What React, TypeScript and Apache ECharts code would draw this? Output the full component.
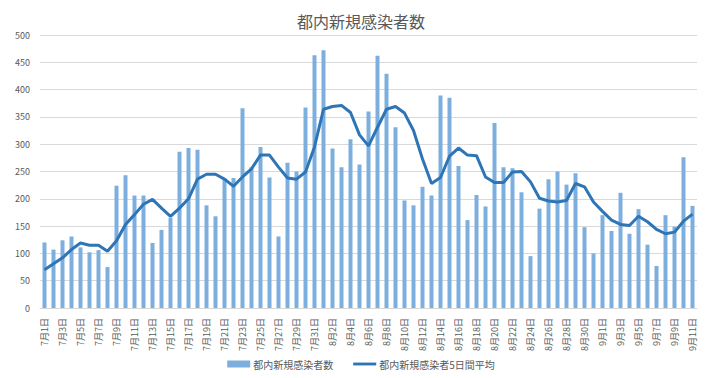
import React, { useEffect, useRef } from "react";
import * as echarts from "echarts";

const months = [7, 8, 9];
const daysInMonth = [31, 31, 11];
const categories: string[] = [];
months.forEach((m, i) => {
  for (let d = 1; d <= daysInMonth[i]; d++) categories.push(`${m}月${d}日`);
});

const dailyCases = [
  120, 107, 124, 131, 111, 102, 106, 75, 224, 243,
  206, 206, 119, 143, 165, 286, 293, 290, 188, 168,
  237, 238, 366, 258, 295, 239, 131, 266, 250, 367, 463,
  472, 292, 258, 309, 263, 360, 462, 429, 331, 197,
  188, 222, 206, 389, 385, 260, 161, 207, 186, 339,
  258, 256, 212, 95, 182, 236, 250, 226, 247, 148, 100,
  170, 141, 211, 136, 181, 116, 77, 170, 149, 276, 187,
];

const avg5 = [
  70, 81, 92, 107, 119, 115, 115, 104, 123, 153,
  171, 190, 199, 183, 168, 183, 200, 236, 245, 245,
  236, 223, 240, 255, 280, 280, 258, 238, 236, 249, 295,
  364, 369, 371, 358, 317, 297, 331, 364, 369, 357,
  325, 273, 228, 239, 278, 293, 280, 279, 240, 230,
  230, 249, 250, 231, 201, 196, 194, 197, 228, 222, 194,
  177, 161, 153, 151, 168, 158, 144, 136, 139, 159, 172,
];

const seriesNames = ["都内新規感染者数", "都内新規感染者5日間平均"];
const title = "都内新規感染者数";

const FONT = "'Noto Sans CJK JP', 'Noto Sans', sans-serif";

export default function App() {
  const ref = useRef<HTMLDivElement>(null);
  useEffect(() => {
    document.body.style.margin = "0";
    const chart = echarts.init(ref.current!, undefined, { renderer: "svg" });
    chart.setOption({
      animation: false,
      backgroundColor: "#ffffff",
      textStyle: { fontFamily: FONT },
      title: {
        text: title,
        left: "center",
        top: 8,
        textStyle: { fontSize: 16, fontWeight: "normal", color: "#595959", fontFamily: FONT },
      },
      grid: { left: 40, right: 25, top: 35, bottom: 70 },
      legend: {
        top: 354,
        left: "center",
        itemGap: 20,
        itemWidth: 23,
        itemHeight: 7,
        textStyle: { fontSize: 10, color: "#595959", fontFamily: FONT, padding: [0, 0, 0, -2] },
        data: [
          { name: seriesNames[0], icon: "rect" },
          { name: seriesNames[1], icon: "path://M0,0 L24,0 L24,3 L0,3 Z" },
        ],
      },
      xAxis: {
        type: "category",
        data: categories,
        axisTick: { show: false },
        axisLine: { lineStyle: { color: "#d9d9d9" } },
        axisLabel: {
          interval: 1,
          rotate: 90,
          fontSize: 9,
          color: "#595959",
          margin: 10,
          fontFamily: FONT,
        },
      },
      yAxis: {
        type: "value",
        min: 0,
        max: 500,
        interval: 50,
        axisLine: { show: false },
        axisTick: { show: false },
        splitLine: { lineStyle: { color: "#d9d9d9" } },
        axisLabel: { fontSize: 9, color: "#595959", margin: 10, fontFamily: FONT },
      },
      series: [
        {
          name: seriesNames[0],
          type: "bar",
          data: dailyCases,
          barWidth: 4,
          itemStyle: { color: "#7DAFDE" },
        },
        {
          name: seriesNames[1],
          type: "line",
          data: avg5,
          symbol: "none",
          lineStyle: { color: "#2E75B6", width: 3 },
          itemStyle: { color: "#2E75B6" },
        },
      ],
    });
    return () => chart.dispose();
  }, []);
  return <div ref={ref} style={{ width: 722, height: 378 }} />;
}
